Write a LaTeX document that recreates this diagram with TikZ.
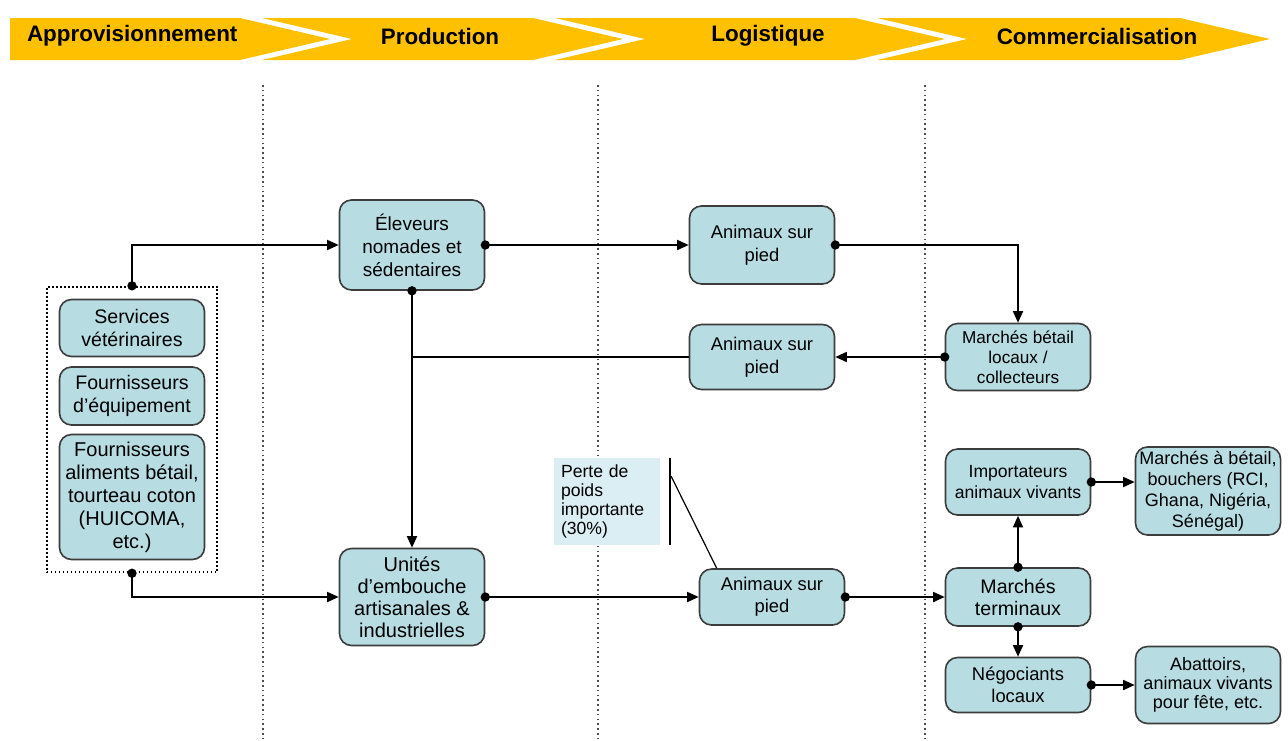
\documentclass[tikz,border=0pt]{standalone}
\usepackage{fontspec}
\setmainfont{Liberation Sans}
\usetikzlibrary{positioning,arrows.meta,fit}
\definecolor{chevron}{RGB}{255,192,0}
\definecolor{boxfill}{RGB}{183,221,227}
\definecolor{notefill}{RGB}{219,238,243}
\definecolor{boxline}{RGB}{60,60,60}

\begin{document}
\begin{tikzpicture}[x=0.5pt,y=-0.5pt,
    fs/.style 2 args={font=\fontsize{#1}{#2}\selectfont},
    every node/.style={fs={9.4}{11.5}},
    box/.style={draw=boxline,line width=0.8pt,fill=boxfill,rounded corners=6pt,align=center,minimum width=72.5pt,inner sep=2pt},
    link/.style={line width=0.9pt,{Circle[length=4.6pt]}-{Triangle[length=5.8pt,width=5pt]},shorten <=-2.3pt},
    phase/.style={font=\fontsize{11.2}{13}\selectfont\bfseries},
    sep/.style={line width=0.8pt,dash pattern=on 0.8pt off 1.6pt,gray!60!black},
    on grid]

\useasboundingbox (0,0) rectangle (1288,740);

\foreach \l/\n/\r in {10/0/240, 262/90/533, 555/90/855, 877/90/1180}
    \fill[chevron] (\l,18) -- (\r,18) -- ++(90,21) -- (\r,60) -- (\l,60) -- ++(\n,-21) -- cycle;
\node[phase,anchor=west] (hdA) at (20,36) {Approvisionnement};
\node[phase] (hdB) at (440,36) {Production};
\node[phase] (hdC) at (768,36) {Logistique};
\node[phase] (hdD) at (1097,36) {Commercialisation};

\foreach \x in {263,598,925}
    \draw[sep] (\x,85) -- (\x,740);

\node[box,fs={9.8}{11.5},minimum height=28.5pt] (services) at (132,328) {Services\\vétérinaires};
\node[box,fs={9.8}{11.5},minimum height=29pt,below=34pt of services] (equip) {Fournisseurs\\d'équipement};
\node[box,fs={10}{11.5},minimum height=62.5pt,below=50.5pt of equip] (aliments) {Fournisseurs\\aliments bétail,\\tourteau coton\\(HUICOMA,\\etc.)};
\node[draw,line width=0.9pt,dash pattern=on 0.8pt off 1.2pt,fit=(services)(aliments),inner sep=6pt] (grp) {};

\node[box,fs={9.5}{11.5},minimum height=45pt] (eleveurs) at (412,245) {Éleveurs\\nomades et\\sédentaires};
\node[box,fs={10}{11},minimum height=48.5pt,below=176pt of eleveurs] (unites) {Unités\\d'embouche\\artisanales \&\\industrielles};
\node[box,fs={9.2}{11.5},minimum height=39pt,right=175pt of eleveurs] (animA) {Animaux sur\\pied};
\node[box,fs={9.2}{11.5},minimum height=32.5pt,below=56pt of animA] (animB) {Animaux sur\\pied};
\node[box,fs={9.2}{10.8},minimum height=28pt,right=180pt of unites] (animC) {Animaux sur\\pied};
\node[box,fs={8.6}{10},minimum height=33.5pt,right=128pt of animB] (collect) {Marchés bétail\\locaux /\\collecteurs};
\node[box,fs={9.8}{11},minimum height=29pt,right=123pt of animC] (terminaux) {Marchés\\terminaux};
\node[box,fs={8.8}{10.8},minimum height=33pt,above=57.5pt of terminaux] (importateurs) {Importateurs\\animaux vivants};
\node[box,fs={9.2}{11},minimum height=27.5pt,below=44pt of terminaux] (negociants) {Négociants\\locaux};
\node[box,fs={9}{10.5},minimum height=44pt,right=95pt of importateurs,yshift=-4.5pt] (bouchers) {Marchés à bétail,\\bouchers (RCI,\\Ghana, Nigéria,\\Sénégal)};
\node[box,fs={9}{9.6},minimum height=38.5pt,right=95pt of negociants] (abattoirs) {Abattoirs,\\animaux vivants\\pour fête, etc.};

\node[fill=notefill,minimum height=43.5pt,text width=46pt,inner xsep=3.5pt,align=left,fs={8.8}{9.5}] (perte) at (607,501) {Perte de\\poids\\importante\\(30\%)};
\coordinate (tickTop) at (670,458);
\coordinate (tickBot) at (670,545);
\coordinate (leader) at (671,476);
\draw[line width=0.6pt] (tickTop) -- (tickBot);
\draw[line width=0.6pt] (leader) -- ([xshift=9pt]animC.north west);

\draw[link] (grp.north) |- (eleveurs.west);
\draw[link] (grp.south) |- (unites.west);
\draw[link] (eleveurs.east) -- (animA.west);
\draw[link] (animA.east) -| (collect.north);
\draw[link] (eleveurs.south) -- (unites.north);
\draw[link] (collect.west) -- (animB.east);
\draw[line width=0.9pt] (animB.west) -- (animB.west -| eleveurs.south);
\draw[link] (unites.east) -- (animC.west);
\draw[link] (animC.east) -- (terminaux.west);
\draw[link] (terminaux.north) -- (importateurs.south);
\draw[link] (terminaux.south) -- (negociants.north);
\draw[link] (importateurs.east) -- (importateurs.east -| bouchers.west);
\draw[link] (negociants.east) -- (abattoirs.west);
\end{tikzpicture}
\end{document}
